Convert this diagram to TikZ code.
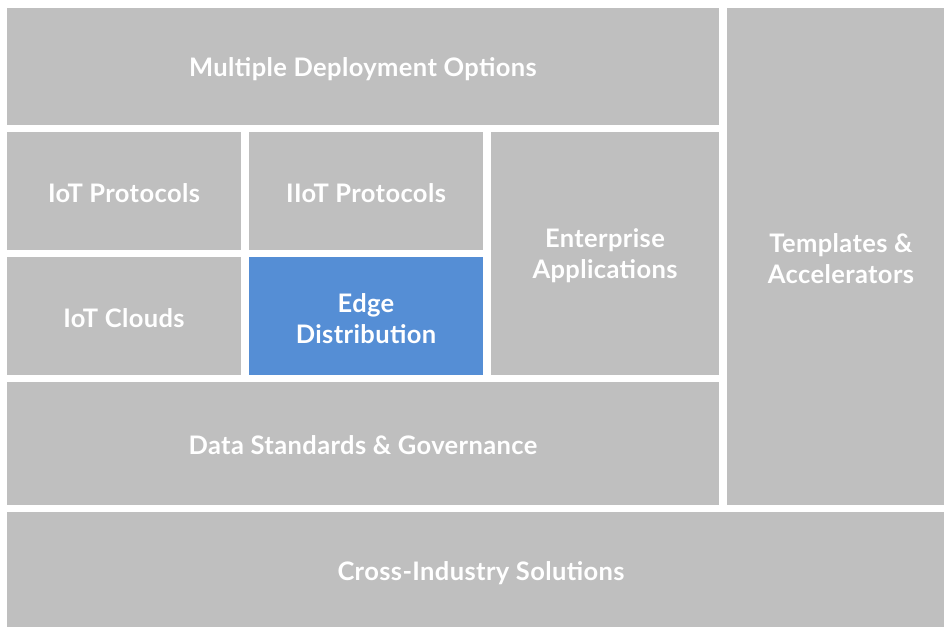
\documentclass[tikz,border=0pt]{standalone}
\usepackage{fontspec}
\setmainfont{Lato}[LetterSpace=1.5]
\definecolor{boxgray}{HTML}{BFBFBF}
\definecolor{boxblue}{HTML}{558ED5}
\begin{document}
\begin{tikzpicture}[x=1pt,y=-1pt,
  blk/.style={fill=boxgray,draw=none},
  lbl/.style={text=white,align=center,font=\bfseries\fontsize{25.5}{31}\selectfont}]
\useasboundingbox (0,0) rectangle (945,627);
\fill[white] (0,0) rectangle (945,627);
\fill[blk] (7,8) rectangle (719,125);
\fill[blk] (7,132) rectangle (241,250);
\fill[blk] (249,132) rectangle (483,250);
\fill[blk] (491,132) rectangle (719,375);
\fill[blk] (7,257) rectangle (241,375);
\fill[boxblue] (249,257) rectangle (483,375);
\fill[blk] (7,382) rectangle (719,505);
\fill[blk] (727,8) rectangle (944,505);
\fill[blk] (7,512) rectangle (944,627);
\node[lbl] (mdo) at (363,69.5) {Multiple Deployment Options};
\node[lbl] (iotp) at (124,193.5) {IoT Protocols};
\node[lbl] (iiotp) at (366,193.5) {IIoT Protocols};
\node[lbl] (ent) at (605,255.5) {Enterprise\\Applications};
\node[lbl] (iotc) at (124,318.5) {IoT Clouds};
\node[lbl] (edge) at (366,318.5) {Edge\\Distribution};
\node[lbl] (data) at (363,445.5) {Data Standards \& Governance};
\node[lbl] (tpl) at (841,258.5) {Templates \&\\Accelerators};
\node[lbl] (cross) at (481,573.5) {Cross-Industry Solutions};
\end{tikzpicture}
\end{document}
